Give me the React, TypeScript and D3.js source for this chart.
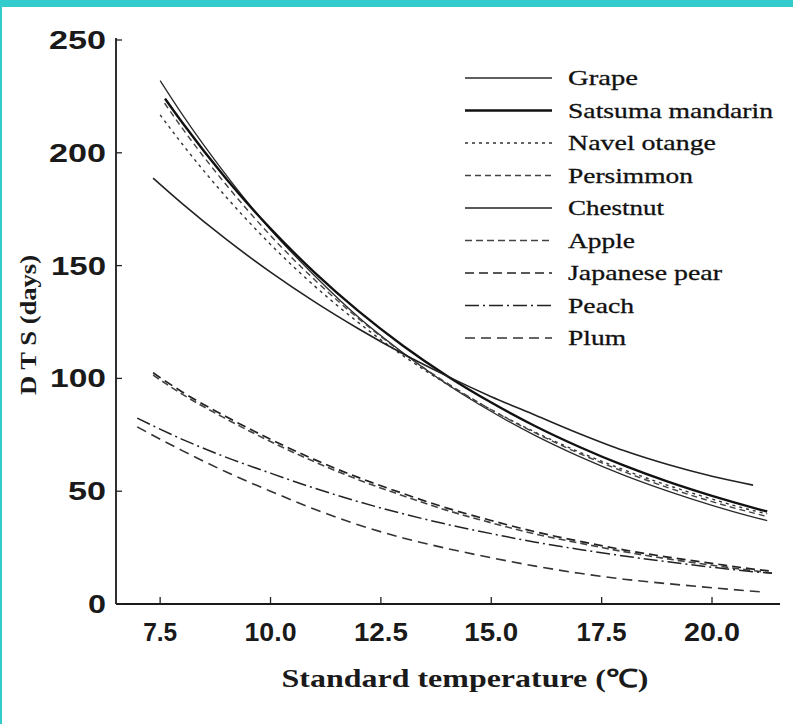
import React from 'react';
import * as d3 from 'd3';

const xTicks = [7.5, 10, 12.5, 15, 17.5, 20];
const xTickLabels = ['7.5', '10.0', '12.5', '15.0', '17.5', '20.0'];
const yTicks = [0, 50, 100, 150, 200, 250];
const yTickLabels = ['0', '50', '100', '150', '200', '250'];

const grapeX = [7.5, 8, 9, 10, 11, 12, 13, 14, 15, 16, 17, 18, 19, 20, 21, 21.25];
const grapeY = [232, 217, 190, 166, 145.5, 127, 111.4, 97.4, 85.3, 74.6, 65.3, 57.1, 50, 43.7, 38.2, 37];
const satsumaX = [7.61, 8, 9, 10, 11, 12, 13, 14, 15, 16, 17, 18, 19, 20, 21, 21.25];
const satsumaY = [224, 213.4, 188.4, 166.4, 146.9, 129.7, 114.5, 101.1, 89.3, 78.8, 69.6, 61.4, 54.2, 47.9, 42.3, 41];
const navelX = [7.5, 8, 9, 10, 11, 12, 13, 14, 15, 16, 17, 18, 19, 20, 21, 21.25];
const navelY = [216.8, 203.9, 180.3, 159.4, 140.9, 124.6, 110.1, 97.4, 86.1, 76.1, 67.3, 59.5, 52.6, 46.5, 41.1, 40];
const persimmonX = [7.6, 8, 9, 10, 11, 12, 13, 14, 15, 16, 17, 18, 19, 20, 21, 21.25];
const persimmonY = [222, 210.9, 185.7, 163.3, 143.7, 126.4, 111.2, 97.9, 86.1, 75.8, 66.7, 58.7, 51.6, 45.4, 40, 38.8];
const chestnutX = [7.34, 8, 9, 10, 11, 12, 13, 14, 15, 16, 17, 18, 19, 20, 20.93];
const chestnutY = [188.8, 177.5, 161.6, 147.1, 133.9, 121.9, 110.9, 101, 91.9, 83.7, 75.5, 68, 61.8, 56.6, 52.7];
const appleX = [7.34, 8, 9, 10, 11, 12, 13, 14, 15, 16, 17, 18, 19, 20, 21, 21.36];
const appleY = [101.5, 93, 82, 72, 63, 55, 48, 41.5, 36, 31, 27, 23.2, 20, 17.2, 14.6, 13.7];
const pearX = [7.34, 8, 9, 10, 11, 12, 13, 14, 15, 16, 17, 18, 19, 20, 21, 21.36];
const pearY = [102.5, 94, 83, 73, 64, 56, 49, 42.5, 37, 32, 27.8, 24, 20.8, 18, 15.3, 14.5];
const peachX = [6.98, 8, 9, 10, 11, 12, 13, 14, 15, 16, 17, 18, 19, 20, 21, 21.36];
const peachY = [82.4, 73, 65, 58, 51.3, 45.3, 40, 35.3, 31.2, 27.4, 24.2, 21.3, 18.7, 16.3, 14.2, 13.6];
const plumX = [6.98, 8, 9, 10, 11, 12, 13, 14, 15, 16, 17, 18, 19, 20, 21.15];
const plumY = [78.5, 68, 58.5, 50, 42, 35, 29.3, 24.6, 20.5, 16.8, 13.6, 11, 9, 7.2, 5.3];

const seriesNames = ['Grape', 'Satsuma mandarin', 'Navel otange', 'Persimmon', 'Chestnut', 'Apple', 'Japanese pear', 'Peach', 'Plum'];
const seriesXs = [grapeX, satsumaX, navelX, persimmonX, chestnutX, appleX, pearX, peachX, plumX];
const seriesYs = [grapeY, satsumaY, navelY, persimmonY, chestnutY, appleY, pearY, peachY, plumY];

const styles = [
  { w: 1.3, dash: '', color: '#2a2a2a' },
  { w: 2.4, dash: '', color: '#111' },
  { w: 1.4, dash: '3,4', color: '#333' },
  { w: 1.4, dash: '6,4', color: '#444' },
  { w: 1.6, dash: '', color: '#222' },
  { w: 1.6, dash: '7,4', color: '#444' },
  { w: 1.7, dash: '9,5', color: '#222' },
  { w: 1.5, dash: '14,4,2,4', color: '#222' },
  { w: 1.6, dash: '10,6', color: '#333' },
];
const legendWidths = [70, 205, 148, 125, 96, 67, 154, 66, 58];
const xLabelWidths = [34, 52, 54, 54, 50, 56];
const yLabelWidths = [18, 38, 56, 55, 57, 57];

export default function App() {
  const W = 793, H = 724;
  const x = d3.scaleLinear().domain([6.5, 21.54]).range([116, 780]);
  const y = d3.scaleLinear().domain([0, 250]).range([604, 40]);
  const line = d3.line<[number, number]>()
    .x(d => x(d[0]))
    .y(d => y(d[1]))
    .curve(d3.curveMonotoneX);

  return (
    <svg width={W} height={H} style={{ position: 'absolute', left: 0, top: 0, background: '#fff' }}>
      <rect x={0} y={0} width={W} height={H} fill="#fff" />
      <rect x={0} y={0} width={W} height={7} fill="#33cccc" />
      <rect x={0} y={0} width={2} height={H} fill="#33cccc" />

      {/* axes */}
      <line x1={x(6.5)} x2={x(6.5)} y1={y(250) - 2} y2={y(0)} stroke="#1a1a1a" strokeWidth={1.8} />
      <line x1={x(6.5)} x2={x(21.54)} y1={y(0)} y2={y(0)} stroke="#1a1a1a" strokeWidth={2} />
      {yTicks.map((t, i) => (
        <g key={'yt' + i}>
          <line x1={x(6.5)} x2={x(6.5) + 6} y1={y(t)} y2={y(t)} stroke="#222" strokeWidth={1.3} />
          <text x={106} y={y(t)} dy="0.36em" textAnchor="end" fontFamily="Liberation Sans, Arial, sans-serif"
            fontWeight="bold" fontSize={25} fill="#1a1a1a" textLength={yLabelWidths[i]}
            lengthAdjust="spacingAndGlyphs">{yTickLabels[i]}</text>
        </g>
      ))}
      {xTicks.map((t, i) => (
        <g key={'xt' + i}>
          <line x1={x(t)} x2={x(t)} y1={y(0)} y2={y(0) - 7} stroke="#222" strokeWidth={1.3} />
          <text x={x(t)} y={y(0) + 37} textAnchor="middle" fontFamily="Liberation Sans, Arial, sans-serif"
            fontWeight="bold" fontSize={25} fill="#1a1a1a" textLength={xLabelWidths[i]}
            lengthAdjust="spacingAndGlyphs">{xTickLabels[i]}</text>
        </g>
      ))}
      <text x={465} y={687} textAnchor="middle" fontFamily="Liberation Serif, Times New Roman, serif"
        fontWeight="bold" fontSize={25} fill="#1a1a1a" textLength={367} lengthAdjust="spacingAndGlyphs">Standard temperature (℃)</text>
      <text transform="translate(36,325) rotate(-90)" textAnchor="middle" fontFamily="Liberation Serif, Times New Roman, serif"
        fontWeight="bold" fontSize={24} fill="#1a1a1a" textLength={140} lengthAdjust="spacingAndGlyphs">D T S (days)</text>

      {/* curves */}
      {seriesXs.map((xs, i) => {
        const pts = xs.map((v, j) => [v, seriesYs[i][j]] as [number, number]);
        return <path key={'s' + i} d={line(pts) || ''} fill="none" stroke={styles[i].color}
          strokeWidth={styles[i].w} strokeDasharray={styles[i].dash || undefined} />;
      })}

      {/* legend */}
      {seriesNames.map((n, i) => {
        const ly = 78 + i * 32.5;
        return (
          <g key={'lg' + i}>
            <line x1={465} x2={552} y1={ly} y2={ly} stroke={styles[i].color} strokeWidth={styles[i].w}
              strokeDasharray={styles[i].dash || undefined} />
            <text x={568} y={ly} dy="0.32em" fontFamily="Liberation Serif, Times New Roman, serif" fontSize={22}
              fill="#111" stroke="#111" strokeWidth={0.3} textLength={legendWidths[i]}
              lengthAdjust="spacingAndGlyphs">{n}</text>
          </g>
        );
      })}
    </svg>
  );
}
